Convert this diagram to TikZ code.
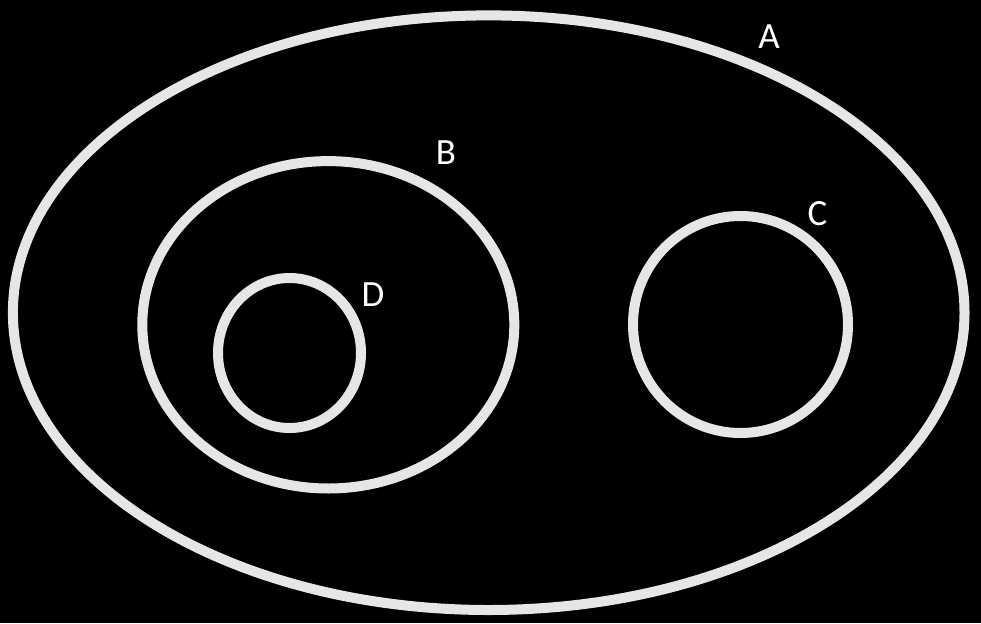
\documentclass[tikz,border=0pt]{standalone}
\usepackage{fontspec}
\setmainfont{Carlito}
\begin{document}
\begin{tikzpicture}[x=1pt,y=-1pt,
  ring/.style={draw=ringc,line width=10pt},
  lbl/.style={text=white,font=\fontsize{37}{40}\selectfont,inner sep=0pt}]
\definecolor{ringc}{HTML}{E6E6E6}
\fill[black] (0,0) rectangle (981,623);
\useasboundingbox (0,0) rectangle (981,623);
\draw[ring] (488.7,312.7) ellipse [x radius=475.8, y radius=297.3];
\draw[ring] (328.3,324.8) ellipse [x radius=186, y radius=163.7];
\draw[ring] (289.5,353) ellipse [x radius=71.5, y radius=75];
\draw[ring] (740.5,324.5) ellipse [x radius=107.5, y radius=108.5];
\node[lbl,anchor=base] (A) at (769,49) {A};
\node[lbl,anchor=base] (B) at (446,164) {B};
\node[lbl,anchor=base] (C) at (817.5,225) {C};
\node[lbl,anchor=base] (D) at (373,306) {D};
\end{tikzpicture}
\end{document}
